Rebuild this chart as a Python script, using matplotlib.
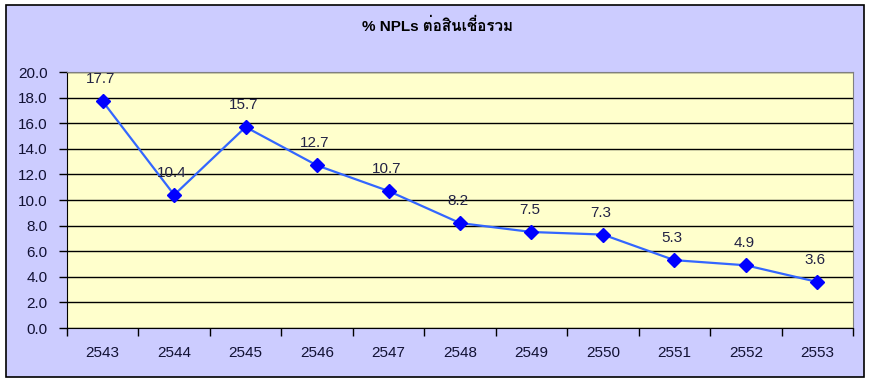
# recreate NPL ratio line chart
import matplotlib
matplotlib.use('Agg')
import matplotlib.pyplot as plt
from matplotlib import font_manager
from matplotlib.ft2font import FT2Font
from matplotlib.patches import Rectangle

# data
years = ['2543', '2544', '2545', '2546', '2547', '2548', '2549', '2550', '2551', '2552', '2553']
npl_pct = [17.7, 10.4, 15.7, 12.7, 10.7, 8.2, 7.5, 7.3, 5.3, 4.9, 3.6]
title_text = '% NPLs ต่อสินเชื่อรวม'

# find a family that has thai glyphs, if any
thai_family = None
for f in font_manager.fontManager.ttflist:
    try:
        if 0x0E2A in FT2Font(f.fname).get_charmap():
            thai_family = f.name
            break
    except Exception:
        pass
families = ['Liberation Sans'] + ([thai_family] if thai_family else []) + ['DejaVu Sans']
plt.rcParams['font.family'] = families

W, H = 871, 383
fig = plt.figure(figsize=(W / 100, H / 100), dpi=100)
fig.patch.set_facecolor('white')

# outer chart area with black border
fig.patches.append(Rectangle((6 / W, 1 - 377 / H), 858 / W, 372 / H, transform=fig.transFigure,
                             facecolor='#CCCCFF', edgecolor='black', linewidth=1.2, zorder=-5))

# plot area in pixels: left 67, right 853, top 72, bottom 328
ax = fig.add_axes([67 / W, 1 - 328 / H, 786 / W, 256 / H])
ax.set_facecolor('#FFFFCC')

x = list(range(len(years)))
ax.plot(x, npl_pct, color='#3366FF', linewidth=1.6, marker='D', markersize=7,
        markerfacecolor='#0000FF', markeredgecolor='#0000FF', zorder=3)

# data labels above points
for xi, v in zip(x, npl_pct):
    ax.annotate(f'{v:.1f}', xy=(xi, v), xytext=(-2, 15), textcoords='offset pixels',
                ha='center', va='bottom', fontsize=11, color='#222244')

ax.set_xlim(-0.5, len(years) - 0.5)
ax.set_ylim(0, 20)
ax.set_yticks([i * 2 for i in range(11)])
ax.set_yticklabels([f'{i * 2:.1f}' for i in range(11)], fontsize=11, color='#111133')
ax.yaxis.grid(True, color='black', linewidth=1)
ax.set_axisbelow(True)

# category labels centered, tick marks between categories
ax.set_xticks(x)
ax.set_xticklabels(years, fontsize=11, color='#111133')
ax.tick_params(axis='x', length=0, pad=13)
ax.set_xticks([i - 0.5 for i in range(len(years) + 1)], minor=True)
ax.tick_params(axis='x', which='minor', length=6, width=1, direction='out', color='black')
ax.tick_params(axis='y', length=6, width=1, direction='out', pad=8)

ax.spines['top'].set_color('#808080')
ax.spines['right'].set_color('#808080')
ax.spines['left'].set_color('black')
ax.spines['bottom'].set_color('black')

fig.text(437 / W, 1 - 26 / H, title_text, ha='center', va='center', fontsize=11, fontweight='bold')

fig.savefig('out.png', dpi=100)
